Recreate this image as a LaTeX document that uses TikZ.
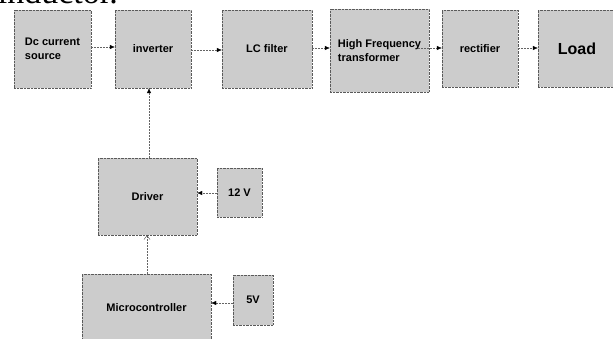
\documentclass[tikz,border=0pt]{standalone}
\usepackage{fontspec}
\setmainfont{Liberation Sans}
\newfontfamily\serifpart{Liberation Serif}
\usetikzlibrary{arrows.meta}
\definecolor{boxfill}{RGB}{204,204,204}
\definecolor{boxline}{RGB}{90,90,90}
\definecolor{linkline}{RGB}{100,100,100}
\tikzset{
  blk/.style={draw=boxline, densely dotted, fill=boxfill, inner sep=0pt,
    font=\fontsize{11}{13.5}\selectfont\bfseries, align=left},
  link/.style={draw=linkline, dash pattern=on 2pt off 1pt, thin,
    -{Latex[length=5pt,width=4.5pt,color=black]}},
  openlink/.style={draw=linkline, dash pattern=on 2pt off 1pt, thin,
    -{Straight Barb[length=4pt,width=6pt,color=black!70]}},
}
\begin{document}
\begin{tikzpicture}[x=1pt,y=-1pt]
\useasboundingbox (0,0) rectangle (613,339);
\clip (0,0) rectangle (613,339);
% cut-off text line at the top
\node[anchor=base east, inner sep=0pt, font=\serifpart\fontsize{34}{36}\selectfont] (toptext) at (118,3.5) {inductor.};
% blocks
\node[blk, minimum width=77pt, minimum height=78pt] (dc) at (52.5,49) {Dc current\\source};
\node[blk, minimum width=76pt, minimum height=78pt] (inv) at (153,49) {inverter};
\node[blk, minimum width=90pt, minimum height=78pt] (lc) at (267,49) {LC filter};
\node[blk, minimum width=99pt, minimum height=83pt] (hf) at (379.5,50.5) {High Frequency\\transformer};
\node[blk, minimum width=76pt, minimum height=77pt] (rect) at (480,48.5) {rectifier};
\node[blk, minimum width=78pt, minimum height=77pt, font=\fontsize{16}{18}\selectfont\bfseries] (load) at (577,48.5) {Load};
\node[blk, minimum width=99pt, minimum height=77pt] (drv) at (147.5,196.5) {Driver};
\node[blk, minimum width=45pt, minimum height=49pt] (v12) at (239.5,192.5) {12 V};
\node[blk, minimum width=129pt, minimum height=80pt, text depth=0pt] (mcu) at (146.5,314) {};
\node[font=\fontsize{11}{13.5}\selectfont\bfseries, inner sep=0pt] (mcutext) at (146.5,308) {Microcontroller};
\node[blk, minimum width=40pt, minimum height=50pt] (v5) at (253,300) {5V};
% connectors
\draw[link] (dc.east |- 0,47) -- (inv.west |- 0,47);
\draw[link] (inv.east |- 0,50) -- (lc.west |- 0,50);
\draw[link] (lc.east |- 0,48) -- (hf.west |- 0,48);
\coordinate (hfout) at (418,48);
\draw[link] (hfout) -- (rect.west |- hfout);
\draw[link] (rect.east |- 0,48) -- (load.west |- 0,48);
\draw[link] (drv.north -| 149,0) -- (inv.south -| 149,0);
\draw[link] (v12.west |- 0,193) -- (drv.east |- 0,193);
\draw[openlink] (mcu.north -| 147,0) -- (drv.south -| 147,0);
\draw[link] (v5.west |- 0,303) -- (mcu.east |- 0,303);
\end{tikzpicture}
\end{document}
